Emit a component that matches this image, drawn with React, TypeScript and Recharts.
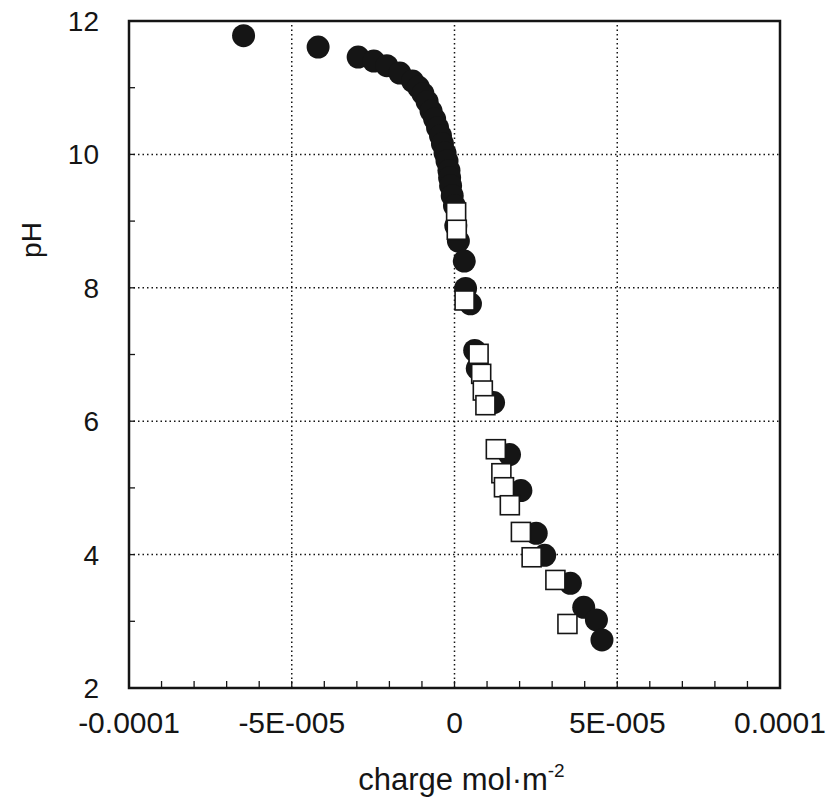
import { ScatterChart, Scatter, XAxis, YAxis, ReferenceLine, ReferenceArea } from 'recharts';

// charge (mol m-2) and pH
const circleCharge = [
  -6.48e-5, -4.19e-5, -2.96e-5, -2.48e-5, -2.08e-5, -1.68e-5, -1.29e-5, -1.11e-5, -9.7e-6, -8.4e-6,
  -7.2e-6, -6.1e-6, -5.2e-6, -4.3e-6, -3.7e-6, -2.9e-6, -2.3e-6, -1.7e-6, -1.5e-6, -1.2e-6,
  -0.7e-6, 0.0, 0.4e-6, 1.2e-6, 3.0e-6, 3.4e-6, 4.9e-6, 6.2e-6, 7.0e-6, 1.2e-5,
  1.69e-5, 2.04e-5, 2.51e-5, 2.77e-5, 3.56e-5, 3.97e-5, 4.36e-5, 4.53e-5,
];
const circlePH = [
  11.78, 11.61, 11.46, 11.4, 11.33, 11.22, 11.1, 11.01, 10.91, 10.79,
  10.65, 10.53, 10.4, 10.28, 10.16, 10.02, 9.9, 9.76, 9.65, 9.53,
  9.38, 9.23, 8.93, 8.7, 8.4, 7.99, 7.76, 7.06, 6.79, 6.28,
  5.5, 4.96, 4.32, 3.99, 3.57, 3.21, 3.02, 2.72,
];
const squareCharge = [
  0.5e-6, 0.7e-6, 3.1e-6, 7.4e-6, 8.2e-6, 8.7e-6, 9.5e-6, 1.27e-5, 1.44e-5, 1.52e-5,
  1.7e-5, 2.04e-5, 2.37e-5, 3.1e-5, 3.47e-5,
];
const squarePH = [
  9.13, 8.87, 7.81, 7.01, 6.71, 6.46, 6.24, 5.58, 5.22, 5.01,
  4.74, 4.34, 3.96, 3.62, 2.96,
];

const xTicks = [
  -0.0001, -0.00009, -0.00008, -0.00007, -0.00006, -0.00005, -0.00004, -0.00003, -0.00002, -0.00001, 0,
  0.00001, 0.00002, 0.00003, 0.00004, 0.00005, 0.00006, 0.00007, 0.00008, 0.00009, 0.0001,
];
const xLabelTicks = [-0.0001, -0.00005, 0, 0.00005, 0.0001];
const xTickLabels = ['-0.0001', '-5E-005', '0', '5E-005', '0.0001'];
const xGrid = [-0.00005, 0, 0.00005];

const yTicks = [2, 3, 4, 5, 6, 7, 8, 9, 10, 11, 12];
const yLabelTicks = [2, 4, 6, 8, 10, 12];
const yGrid = [4, 6, 8, 10];

const circles = circlePH.map((y, i) => ({ x: circleCharge[i], y }));
const squares = squarePH.map((y, i) => ({ x: squareCharge[i], y }));

const FONT = '"Liberation Sans", Arial, Helvetica, sans-serif';
const INK = '#151515';

function XTick(props: any) {
  const { x, y, payload } = props;
  const i = xLabelTicks.findIndex((t) => Math.abs(t - payload.value) < 1e-9);
  return (
    <g>
      <line x1={x} x2={x} y1={y} y2={y - 7} stroke={INK} strokeWidth={1.3} />
      {i >= 0 && (
        <text x={x} y={y + 45} textAnchor="middle" fontSize={30} fontFamily={FONT} fill={INK}>
          {xTickLabels[i]}
        </text>
      )}
    </g>
  );
}

function YTick(props: any) {
  const { x, y, payload } = props;
  const show = yLabelTicks.includes(payload.value);
  return (
    <g>
      <line x1={x} x2={x + 6} y1={y} y2={y} stroke={INK} strokeWidth={1.3} />
      {show && (
        <text x={x - 30} y={y + 10} textAnchor="end" fontSize={28} fontFamily={FONT} fill={INK}>
          {payload.value}
        </text>
      )}
    </g>
  );
}

const Dot = (p: any) => <circle cx={p.cx} cy={p.cy} r={11.5} fill={INK} />;
const Box = (p: any) => (
  <rect x={p.cx - 9.5} y={p.cy - 9.5} width={19} height={19} fill="#fff" stroke={INK} strokeWidth={1.6} />
);

const xTitle = (props: any) => {
  const { x, y, width } = props.viewBox;
  return (
    <text x={x + width / 2 + 7} y={y + 102} textAnchor="middle" fontSize={31} fontFamily={FONT} fill={INK}>
      charge mol·m
      <tspan fontSize={19} dy={-13}>-2</tspan>
    </text>
  );
};

const yTitle = (props: any) => {
  const { x, y } = props.viewBox;
  return (
    <text
      x={x + 31}
      y={y + 219}
      textAnchor="middle"
      fontSize={28}
      fontFamily={FONT}
      fill={INK}
      transform={`rotate(-90 ${x + 31} ${y + 219})`}
      dy={10}
    >
      pH
    </text>
  );
};

export default function App() {
  return (
    <div style={{ position: 'absolute', left: 0, top: 0, width: 836, height: 800, background: '#fff' }}>
      <ScatterChart width={836} height={800} margin={{ top: 21, right: 56, bottom: 0, left: 0 }}>
        <XAxis
          type="number"
          dataKey="x"
          domain={[-0.0001, 0.0001]}
          ticks={xTicks}
          interval={0}
          tick={<XTick />}
          tickSize={0}
          tickMargin={0}
          tickLine={false}
          axisLine={false}
          height={112}
          allowDataOverflow
          label={{ content: xTitle }}
        />
        <YAxis
          type="number"
          dataKey="y"
          domain={[2, 12]}
          ticks={yTicks}
          interval={0}
          tick={<YTick />}
          tickSize={0}
          tickMargin={0}
          tickLine={false}
          axisLine={false}
          width={129}
          allowDataOverflow
          label={{ content: yTitle }}
        />
        {xGrid.map((v) => (
          <ReferenceLine key={`gx${v}`} x={v} stroke={INK} strokeWidth={1.5} strokeDasharray="1.5 3" />
        ))}
        {yGrid.map((v) => (
          <ReferenceLine key={`gy${v}`} y={v} stroke={INK} strokeWidth={1.5} strokeDasharray="1.5 3" />
        ))}
        <ReferenceArea x1={-0.0001} x2={0.0001} y1={2} y2={12} fill="none" stroke={INK} strokeWidth={2.5} />
        <Scatter data={circles} shape={Dot} isAnimationActive={false} />
        <Scatter data={squares} shape={Box} isAnimationActive={false} />
      </ScatterChart>
    </div>
  );
}
